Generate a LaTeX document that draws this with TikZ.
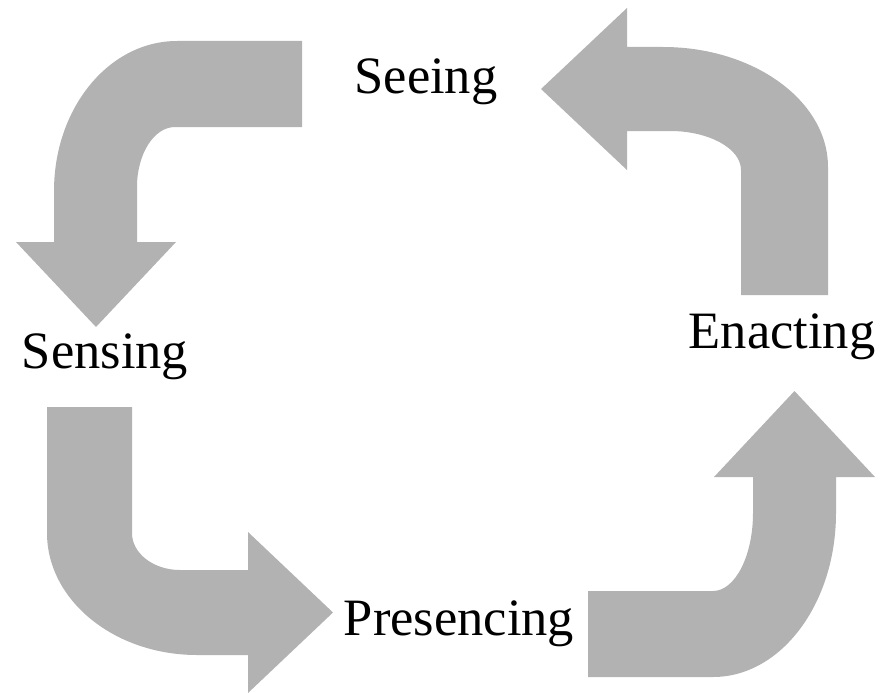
\documentclass[tikz,border=0pt]{standalone}
\usepackage{fontspec}
\setmainfont{Liberation Serif}
\definecolor{arrowgray}{RGB}{178,178,178}
\begin{document}
\begin{tikzpicture}[x=1pt,y=-1pt,
  bentarrow/.style={fill=arrowgray,draw=none},
  label/.style={font=\fontsize{52.5}{63}\selectfont,inner sep=0pt,anchor=base,text=black}]
\useasboundingbox (0,0) rectangle (884,693);
% Seeing -> Sensing (top left)
\fill[bentarrow] (302,41) -- (177,41) .. controls (109,41) and (54,108) .. (54,191)
  -- (54,242) -- (16,242) -- (96,327) -- (176,242) -- (137,242) -- (137,187)
  .. controls (137,154) and (154,127) .. (175,127) -- (302,127) -- cycle;
% Enacting -> Seeing (top right)
\fill[bentarrow] (541,89) -- (627,8) -- (627,47) -- (663,47)
  .. controls (754,47) and (828,101) .. (828,167) -- (828,295) -- (741,295) -- (741,170)
  .. controls (741,148.5) and (709,131) .. (670,131) -- (627,131) -- (627,170) -- cycle;
% Sensing -> Presencing (bottom left)
\fill[bentarrow] (47,407) -- (132,407) -- (132,533)
  .. controls (132,553.4) and (153.5,570) .. (180,570) -- (248,570) -- (248,532)
  -- (333,612.5) -- (248,693) -- (248,655) -- (197,655)
  .. controls (114,655) and (47,600) .. (47,533) -- cycle;
% Presencing -> Enacting (bottom right)
\fill[bentarrow] (588,591) -- (713,591) .. controls (735,591) and (753,556) .. (753,513)
  -- (753,477) -- (714,477) -- (794.5,391) -- (875,477) -- (836,477) -- (836,513)
  .. controls (836,603.6) and (781,677) .. (713,677) -- (588,677) -- cycle;
% labels
\node[label] (seeing) at (426,94) {Seeing};
\node[label] (sensing) at (105,368) {Sensing};
\node[label] (enacting) at (782,348) {Enacting};
\node[label] (presencing) at (459,635) {Presencing};
\end{tikzpicture}
\end{document}
